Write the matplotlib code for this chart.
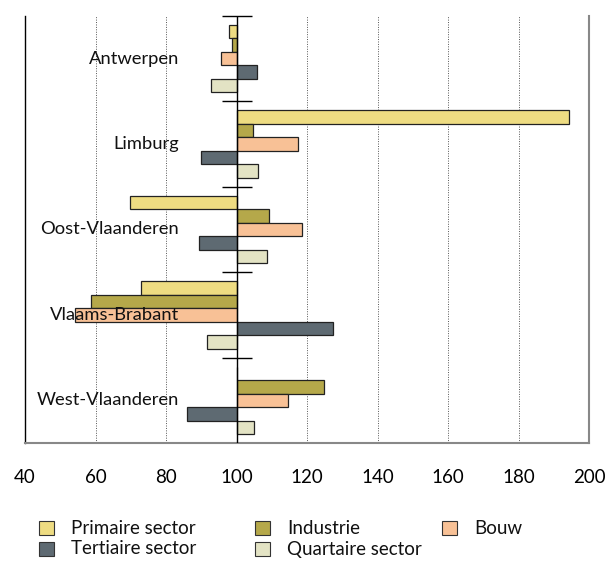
import numpy as np
import matplotlib.pyplot as plt
from matplotlib.patches import Rectangle
from matplotlib.transforms import blended_transform_factory

plt.rcParams['font.family'] = ['Lato', 'DejaVu Sans']

provinces = ['Antwerpen', 'Limburg', 'Oost-Vlaanderen', 'Vlaams-Brabant', 'West-Vlaanderen']
sectors = ['Primaire sector', 'Industrie', 'Bouw', 'Tertiaire sector', 'Quartaire sector']
colors = ['#EEDC82', '#B5A84A', '#F8C196', '#5E6A72', '#E3E3C4']

# index per province (100 = reference level)
primaire = [98.0, 194.2, 69.9, 72.8, 100.2]
industrie = [98.8, 104.8, 109.1, 58.7, 124.8]
bouw = [95.6, 117.5, 118.7, 54.1, 114.5]
tertiaire = [105.7, 90.0, 89.3, 127.4, 86.0]
quartaire = [92.9, 106.2, 108.7, 91.7, 105.1]
series = [primaire, industrie, bouw, tertiaire, quartaire]

xticks = [40, 60, 80, 100, 120, 140, 160, 180, 200]
base = 100

W, H = 610, 561
fig = plt.figure(figsize=(W / 100, H / 100), dpi=100)
ax = fig.add_axes([25 / W, 1 - 443 / H, 564 / W, 427 / H])

y = np.arange(len(provinces))
h = 0.158
for k, (vals, col) in enumerate(zip(series, colors)):
    vals = np.array(vals)
    ax.barh(y + (k - 2) * h, vals - base, left=base, height=h,
            color=col, edgecolor='#222222', linewidth=0.9, zorder=3)

ax.set_xlim(40, 200)
ax.set_ylim(len(provinces) - 0.5, -0.5)

# dotted grid, solid axis line at 100 with group separators
for xv in xticks[1:-1]:
    if xv != base:
        ax.axvline(xv, color='#555555', linestyle=(0, (1, 1.5)), linewidth=0.7, zorder=1)
ax.axvline(base, color='black', linewidth=1.0, zorder=4)
bounds = np.arange(len(provinces)) - 0.5
ax.plot([base] * len(bounds), bounds, linestyle='none', marker='_',
        markersize=21, markeredgewidth=1.0, color='black', zorder=4, clip_on=False)

trans = blended_transform_factory(ax.transAxes, ax.transData)
for yi, name in zip(y, provinces):
    ax.text(0.273, yi, name, transform=trans, ha='right', va='center',
            fontsize=13.2, color='#111111', zorder=5)

ax.set_yticks([])
ax.set_xticks(xticks)
ax.tick_params(axis='x', length=0, pad=19, labelsize=13.5)

ax.spines['top'].set_visible(False)
ax.spines['left'].set_color('black')
ax.spines['left'].set_linewidth(1.0)
for s in ['right', 'bottom']:
    ax.spines[s].set_color('#888888')
    ax.spines[s].set_linewidth(1.5)

# legend laid out in fixed columns, two rows
col_x = [39, 255, 442]
row_y = [528, 549]
for i, (name, col) in enumerate(zip(sectors, colors)):
    cx = col_x[i % 3]
    cy = row_y[i // 3]
    fig.add_artist(Rectangle((cx / W, 1 - (cy + 7) / H), 15 / W, 14 / H,
                             transform=fig.transFigure, facecolor=col,
                             edgecolor='#333333', linewidth=0.8))
    fig.text((cx + 32) / W, 1 - cy / H, name, ha='left', va='center',
             fontsize=13.5, color='#111111')

fig.savefig('out.png', dpi=100)
